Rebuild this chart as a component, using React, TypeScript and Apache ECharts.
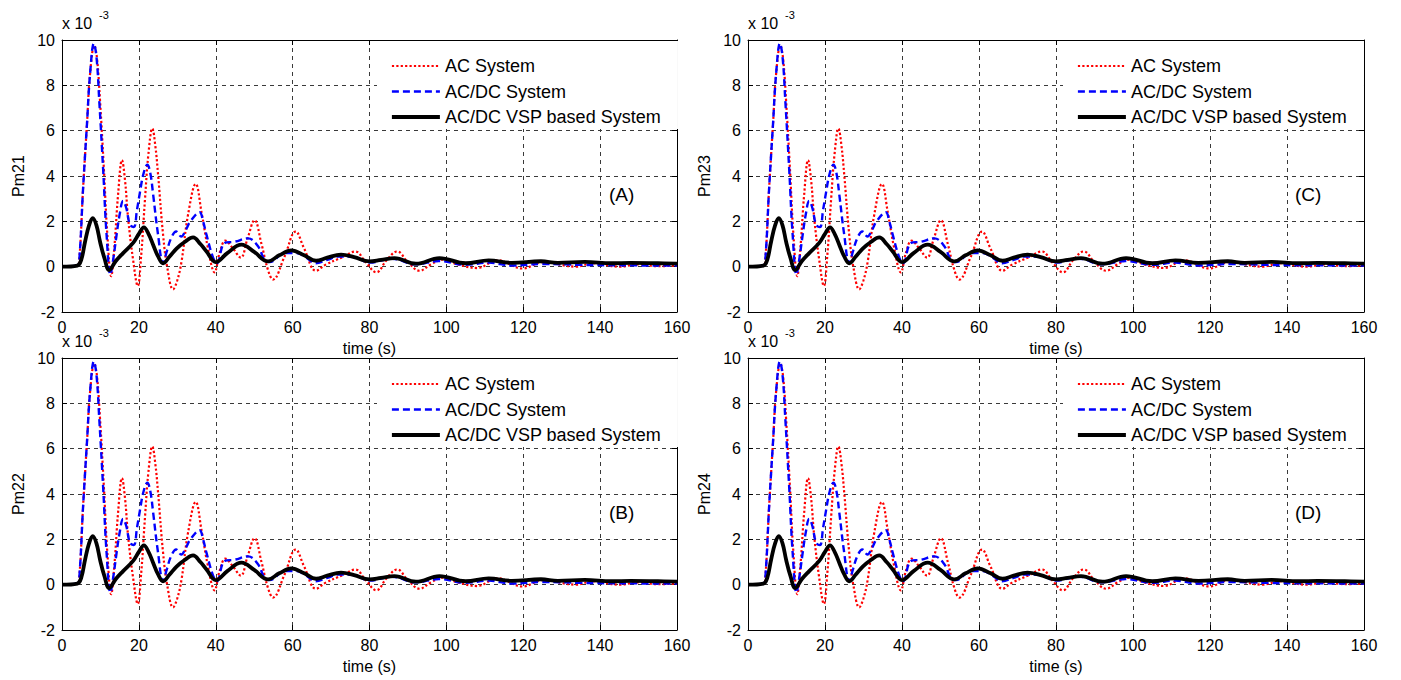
import React, { useEffect, useRef } from "react";
import * as echarts from "echarts";

// ---- data (values in units of 1e-3) ----
const xTicks = [0, 20, 40, 60, 80, 100, 120, 140, 160];
const yTicks = [-2, 0, 2, 4, 6, 8, 10];

const acTime = [0, 4, 4.5, 5.5, 6.5, 7.3, 8.4, 9.1, 9.9, 10.9, 11.8, 12.8, 13.6, 14.6, 15.6, 16.4, 17.2, 18.5, 19.7, 20.6, 21.6, 22.5, 23.5, 24.3, 25, 26.3, 27.4, 28.9, 30, 31.1, 32.8, 34.8, 36.3, 38, 39.7, 41, 42.5, 44.5, 46.5, 48.2, 50.1, 51.9, 53.6, 54.9, 57.9, 60.8, 63, 66.1, 68.6, 73, 76.3, 79, 81.8, 84.5, 87.2, 90, 93, 96, 99, 103, 108, 113.3, 119.8, 125, 133.7, 138, 145, 150, 155, 160];
const acValue = [0, 0.05, 0.3, 3.5, 6.3, 8.5, 9.75, 9.2, 7.3, 4.3, 1.4, -0.42, 0.8, 3.2, 4.7, 3.8, 2.14, 0.3, -0.85, 0.5, 3.0, 5.0, 6.1, 5.3, 4.05, 1.4, -0.05, -1.0, -0.6, 0.23, 2.3, 3.65, 2.4, 0.8, -0.25, 0.6, 1.15, 0.8, 0.4, 1.2, 2.05, 1.0, -0.15, -0.57, 0.45, 1.55, 0.8, -0.18, 0.09, 0.42, 0.67, 0.2, -0.25, 0.3, 0.67, 0.2, -0.18, 0.1, 0.31, 0.1, -0.06, 0.28, -0.08, 0.2, 0.0, 0.15, 0.0, 0.1, 0.02, 0.05];

const acdcTime = [0, 4, 4.5, 5.5, 6.5, 7.3, 8.3, 9, 9.7, 10.7, 11.6, 12.6, 13.3, 14.2, 15, 15.9, 16.7, 17.7, 18.7, 19.5, 20.3, 21.2, 22.2, 23, 23.7, 25, 26.3, 27.3, 28.4, 29.7, 31, 32.3, 33.4, 35.8, 36.7, 37.6, 39.3, 40.3, 42.3, 44.9, 48.4, 51, 52.7, 54, 58, 61, 63.5, 66, 69, 72, 76, 80, 86, 92, 98, 105, 111, 117, 125, 135, 145, 160];
const acdcValue = [0, 0.05, 0.3, 3.5, 6.3, 8.5, 9.85, 9.2, 7.3, 4.3, 1.4, -0.35, 0.3, 1.4, 2.3, 2.9, 2.6, 1.85, 1.75, 2.5, 3.3, 4.1, 4.5, 4.1, 3.2, 1.4, 0.15, 0.7, 1.26, 1.55, 1.33, 1.65, 2.0, 2.4, 2.0, 1.4, 0.4, 0.15, 1.04, 1.1, 1.25, 0.9, 0.3, 0.2, 0.6, 0.6, 0.4, 0.15, 0.3, 0.45, 0.42, 0.18, 0.35, 0.1, 0.25, 0.08, 0.18, 0.05, 0.12, 0.08, 0.06, 0.05];

const vspTime = [0, 4, 5, 6, 7, 8, 9, 9.9, 11, 12.3, 14, 15.9, 18.5, 20, 21.3, 22.5, 23.7, 25, 26.3, 28, 29.8, 32, 34.1, 36, 37.6, 40, 43, 46.7, 50, 53.6, 56.5, 59.7, 63, 66.1, 69, 72.6, 76, 80, 83, 86.5, 92.1, 98.2, 105, 111, 117, 124.6, 129, 136, 143, 148, 155, 160];
const vspValue = [0, 0.05, 0.3, 1.1, 1.8, 2.14, 1.8, 1.1, 0.4, -0.15, 0.25, 0.6, 1.05, 1.45, 1.73, 1.45, 0.97, 0.45, 0.15, 0.45, 0.8, 1.1, 1.29, 1.0, 0.67, 0.2, 0.6, 0.97, 0.65, 0.23, 0.5, 0.72, 0.5, 0.26, 0.4, 0.53, 0.42, 0.23, 0.3, 0.38, 0.13, 0.38, 0.15, 0.28, 0.17, 0.24, 0.17, 0.21, 0.15, 0.17, 0.15, 0.13];

const seriesNames = ["AC System", "AC/DC System", "AC/DC VSP based System"];
const panelYNames = ["Pm21", "Pm23", "Pm22", "Pm24"];
const panelTags = ["(A)", "(C)", "(B)", "(D)"];

const FONT = "'Liberation Sans', Arial, Helvetica, sans-serif";

function zip(t: number[], v: number[]) {
  return t.map((x, i) => [x, v[i]]);
}

export default function App() {
  const ref = useRef<HTMLDivElement>(null);
  useEffect(() => {
    if (!ref.current) return;
    const chart = echarts.init(ref.current, undefined, { renderer: "svg" });

    const panels = [
      { left: 62, top: 40, width: 615 },
      { left: 748, top: 40, width: 616 },
      { left: 62, top: 358, width: 615 },
      { left: 748, top: 358, width: 616 },
    ];
    const H = 272;

    const grid: any[] = [];
    const xAxis: any[] = [];
    const yAxis: any[] = [];
    const series: any[] = [];
    const legend: any[] = [];
    const graphic: any[] = [];

    const axisLineStyle = { color: "#000", width: 1 };
    const splitStyle = { color: "#3a3a3a", type: [4, 4], width: 1 };

    panels.forEach((p, i) => {
      grid.push({ left: p.left, top: p.top, width: p.width, height: H, show: false });
      xAxis.push({
        gridIndex: i, type: "value", min: 0, max: 160, interval: 20,
        axisLine: { onZero: false, lineStyle: axisLineStyle },
        axisTick: { inside: true, length: 5, lineStyle: { color: "#000" } },
        axisLabel: { color: "#000", fontSize: 16, margin: 7, fontFamily: FONT },
        splitLine: { show: true, lineStyle: splitStyle },
        name: "time (s)", nameLocation: "middle", nameGap: 28,
        nameTextStyle: { color: "#000", fontSize: 16, fontFamily: FONT },
      });
      xAxis.push({
        gridIndex: i, type: "value", min: 0, max: 160, interval: 20, position: "top",
        axisLine: { onZero: false, lineStyle: axisLineStyle },
        axisTick: { inside: true, length: 5, lineStyle: { color: "#000" } },
        axisLabel: { show: false }, splitLine: { show: false },
      });
      yAxis.push({
        gridIndex: i, type: "value", min: -2, max: 10, interval: 2,
        axisLine: { show: true, onZero: false, lineStyle: axisLineStyle },
        axisTick: { show: true, inside: true, length: 5, lineStyle: { color: "#000" } },
        axisLabel: { color: "#000", fontSize: 16, margin: 7, fontFamily: FONT },
        splitLine: { show: true, lineStyle: splitStyle },
        name: panelYNames[i], nameLocation: "middle", nameGap: 36, nameRotate: 90,
        nameTextStyle: { color: "#000", fontSize: 16, fontFamily: FONT },
      });
      yAxis.push({
        gridIndex: i, type: "value", min: -2, max: 10, interval: 2, position: "right",
        axisLine: { show: true, onZero: false, lineStyle: axisLineStyle },
        axisTick: { show: true, inside: true, length: 5, lineStyle: { color: "#000" } },
        axisLabel: { show: false }, splitLine: { show: false },
      });

      const xi = 2 * i;
      series.push({
        name: seriesNames[0], type: "line", xAxisIndex: xi, yAxisIndex: xi,
        data: zip(acTime, acValue), symbol: "none", smooth: 0.4,
        lineStyle: { color: "#ff0000", width: 2.2, type: "dotted" }, itemStyle: { color: "#ff0000" },
        z: 2,
      });
      series.push({
        name: seriesNames[1], type: "line", xAxisIndex: xi, yAxisIndex: xi,
        data: zip(acdcTime, acdcValue), symbol: "none", smooth: 0.4,
        lineStyle: { color: "#0000ff", width: 2.4, type: [7, 4] }, itemStyle: { color: "#0000ff" },
        z: 3,
      });
      series.push({
        name: seriesNames[2], type: "line", xAxisIndex: xi, yAxisIndex: xi,
        data: zip(vspTime, vspValue), symbol: "none", smooth: 0.4,
        lineStyle: { color: "#000000", width: 3.8, type: "solid" }, itemStyle: { color: "#000" },
        z: 4,
      });

      legend.push({
        orient: "vertical", left: p.left + 315, top: p.top + 1,
        itemWidth: 48, itemHeight: 14, itemGap: 5.5,
        backgroundColor: "#fff", padding: [15, 17, 2, 13],
        selectedMode: false, data: seriesNames,
        itemStyle: { opacity: 0, color: "rgba(0,0,0,0)", borderWidth: 0 },
        lineStyle: { width: "inherit" },
        textStyle: { fontSize: 18, color: "#000", lineHeight: 20, fontFamily: FONT },
      });

      graphic.push({
        type: "text", left: p.left, top: p.top - 25, z: 10,
        style: { text: "x 10", fontSize: 16, fill: "#000", fontFamily: FONT },
      });
      graphic.push({
        type: "text", left: p.left + 37, top: p.top - 31, z: 10,
        style: { text: "-3", fontSize: 11, fill: "#000", fontFamily: FONT },
      });
      graphic.push({
        type: "text", left: p.left + 547, top: p.top + 145, z: 10,
        style: { text: panelTags[i], fontSize: 19, fill: "#000", fontFamily: FONT },
      });
    });

    chart.setOption({
      animation: false,
      backgroundColor: "#fff",
      grid, xAxis, yAxis, series, legend, graphic,
    });
    return () => chart.dispose();
  }, []);

  return (
    <div
      ref={ref}
      style={{ position: "fixed", left: 0, top: 0, width: 1401, height: 680, background: "#fff" }}
    />
  );
}
